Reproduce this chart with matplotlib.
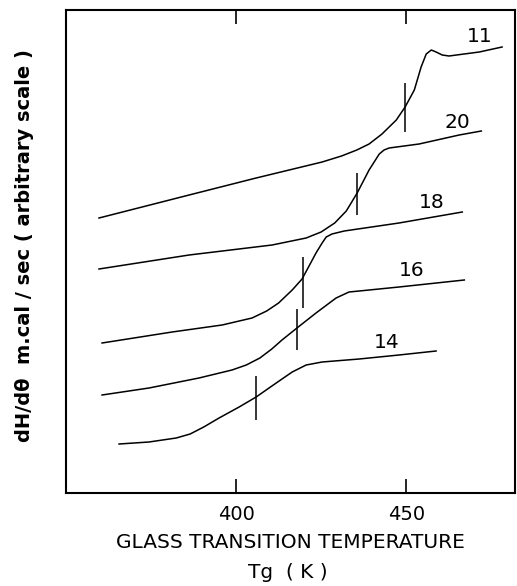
import matplotlib
matplotlib.use("Agg")
import matplotlib.pyplot as plt

# DSC traces, temperature in K and signal in arbitrary units
t11 = [359.7, 386.2, 405.9, 425.3, 431.0, 435.5, 439.1, 442.9, 447.1, 449.7,
       452.4, 454.4, 455.9, 457.4, 458.8, 460.6, 462.6, 471.5, 478.2]
y11 = [275, 298, 315, 331, 337, 343, 349, 359, 373, 386,
       403, 426, 439, 443, 441, 438, 437, 441, 446]

t20 = [359.7, 386.2, 410.6, 420.6, 425.0, 429.0, 432.4, 435.6, 439.1, 442.1,
       443.5, 445.0, 453.8, 465.6, 472.1]
y20 = [224, 238, 248, 255, 261, 270, 282, 300, 323, 339,
       343, 345, 349, 358, 362]

t18 = [360.6, 381.2, 395.9, 404.7, 409.0, 412.5, 416.5, 419.4, 422.4, 423.5,
       425.3, 426.5, 428.2, 431.8, 447.9, 466.5]
y18 = [150, 161, 168, 175, 182, 190, 203, 214, 233, 240,
       250, 256, 259, 262, 270, 281]

t16 = [360.6, 374.4, 389.1, 398.8, 403.0, 407.0, 410.5, 413.5, 417.9, 423.5,
       429.4, 433.2, 436.2, 447.9, 467.1]
y16 = [98, 105, 115, 123, 128, 135, 144, 153, 165, 180,
       195, 201, 202, 206, 213]

t14 = [365.6, 374.4, 382.4, 386.5, 390.5, 395.0, 400.9, 405.9, 411.8, 416.5,
       420.6, 425.3, 436.2, 447.9, 458.8]
y14 = [49, 51, 55, 59, 66, 75, 86, 96, 110, 121,
       128, 131, 134, 138, 142]

# Tg marks: temperature, lower and upper end of the vertical bar
tg_t = [449.7, 435.6, 419.7, 417.9, 405.9]
tg_lo = [361, 278, 185, 143, 73]
tg_hi = [410, 320, 236, 184, 117]

# curve labels
lab_txt = ["11", "20", "18", "16", "14"]
lab_t = [471.5, 465.0, 457.4, 451.5, 444.4]
lab_y = [456, 371, 290, 223, 151]

fig = plt.figure(figsize=(5.17, 5.86), dpi=100)
ax = fig.add_axes([66/517, 93/586, 449/517, 483/586])

for t, y in [(t11, y11), (t20, y20), (t18, y18), (t16, y16), (t14, y14)]:
    ax.plot(t, y, color="black", lw=1.1, solid_joinstyle="round")

ax.vlines(tg_t, tg_lo, tg_hi, color="black", lw=1.1)

for s, t, y in zip(lab_txt, lab_t, lab_y):
    ax.text(t, y, s, fontsize=14.5, ha="center", va="center")

ax.set_xlim(350, 482)
ax.set_ylim(0, 483)
ax.set_xticks([400, 450])
ax.set_yticks([])
ax.tick_params(axis="x", direction="in", top=True, length=10, width=1.2,
               labelsize=14, pad=9)
for sp in ax.spines.values():
    sp.set_linewidth(1.5)

fig.text(290/517, 1 - 543/586, "GLASS TRANSITION TEMPERATURE", fontsize=14.5,
         ha="center", va="center")
fig.text(288/517, 1 - 573/586, "Tg  ( K )", fontsize=14.5, ha="center", va="center")
fig.text(25/517, 1 - 246/586, "dH/d\u03b8  m.cal / sec ( arbitrary scale )",
         fontsize=14, fontweight="bold", rotation=90, ha="center", va="center")

fig.savefig("out.png", dpi=100)
